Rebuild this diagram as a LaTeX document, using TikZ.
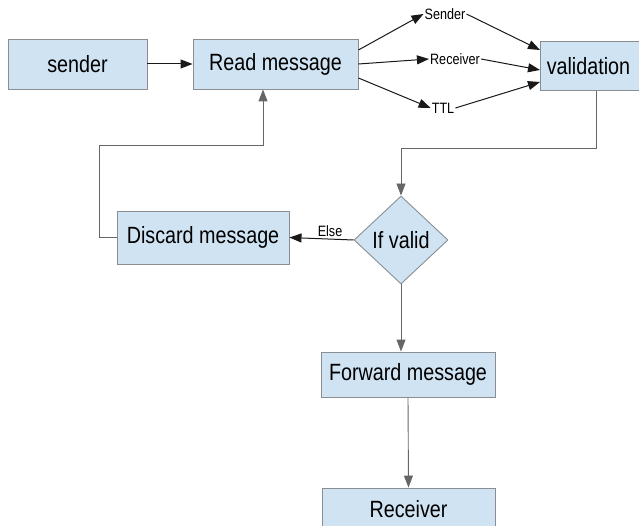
\documentclass[tikz,border=0pt]{standalone}
\usepackage{fontspec}
\setmainfont{Liberation Sans}
\newfontfamily\cond[FakeStretch=0.84]{Liberation Sans}
\usetikzlibrary{arrows.meta,shapes.geometric}
\definecolor{boxfill}{HTML}{CFE3F3}
\definecolor{boxline}{HTML}{8A8E92}
\tikzset{
  box/.style={draw=boxline,fill=boxfill,line width=0.9pt,inner sep=0pt,font=\cond\fontsize{23.5}{26}\selectfont},
  cond/.style={diamond,draw=boxline,fill=boxfill,line width=0.9pt,inner sep=0pt,minimum width=94pt,minimum height=88pt,font=\cond\fontsize{23.5}{26}\selectfont},
  lbl/.style={inner sep=1pt,font=\cond\fontsize{15}{17}\selectfont},
  arr/.style={-{Triangle[length=12pt,width=9pt]},line width=1pt,draw=black!90},
  garr/.style={-{Triangle[length=12pt,width=9pt]},line width=0.9pt,draw=black!60},
}
\begin{document}
\begin{tikzpicture}[x=1pt,y=-1pt]
\useasboundingbox (0,0) rectangle (639,526);
\node[box,minimum width=139pt,minimum height=50pt] (snd) at (77.5,64) {sender};
\node[box,minimum width=165pt,minimum height=50pt] (read) at (275.5,64) {Read message};
\node[box,minimum width=100pt,minimum height=49pt,anchor=west] (valid) at (540,66) {\hspace*{-4pt}validation};
\node[lbl] (ls) at (445,14) {Sender};
\node[lbl] (lr) at (455,59) {Receiver};
\node[lbl] (lt) at (443,108) {TTL};
\node[cond] (ifv) at (401,240) {If valid};
\node[box,minimum width=172pt,minimum height=53pt] (disc) at (203,237.5) {Discard message};
\node[lbl] (le) at (330,231) {Else};
\node[box,minimum width=174pt,minimum height=45pt] (fwd) at (408,374.5) {Forward message};
\node[box,minimum width=173pt,minimum height=42pt] (rcv) at (408.5,509) {Receiver};
\coordinate (lp) at ([xshift=-12.5pt,yshift=-56pt]read.south);

\draw[arr] (snd.east) -- (read.west);
\draw[arr] ([yshift=14pt]read.east) -- (ls.west);
\draw[arr] (read.east) -- (lr.west);
\draw[arr] ([yshift=-14pt]read.east) -- (lt.west);
\draw[arr] (ls.east) -- ([yshift=16pt]valid.west);
\draw[arr] (lr.east) -- ([yshift=-4pt]valid.west);
\draw[arr] (lt.east) -- ([yshift=-16pt]valid.west);
\draw[garr] ([xshift=6pt]valid.south) -- ++(0,58) -| (ifv.north);
\draw[arr] (ifv.west) -- (disc.east);
\draw[garr] (disc.west) -- ++(-17,0) |- (lp) -- ([xshift=-12.5pt]read.south);
\draw[garr] (ifv.south) -- (ifv.south |- fwd.north);
\draw[garr] (fwd.south) -- (rcv.north);
\end{tikzpicture}
\end{document}
